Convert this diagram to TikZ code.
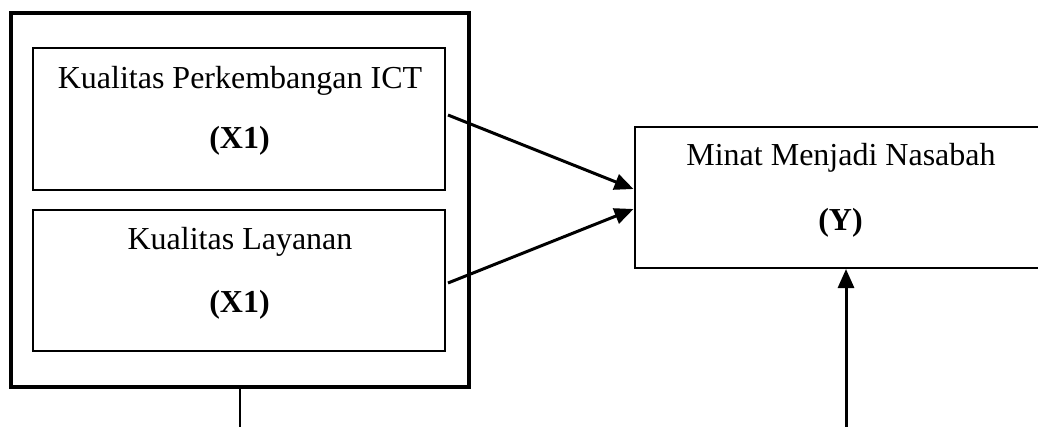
\documentclass[tikz,border=0pt]{standalone}
\usepackage{fontspec}
\setmainfont{Liberation Serif}
\usetikzlibrary{arrows.meta,calc}
\tikzset{
  box/.style={draw, line width=2pt, rectangle, inner sep=0pt},
  outerbox/.style={draw, line width=3.2pt, rectangle, inner sep=0pt},
  lbl/.style={anchor=base, inner sep=0pt, font=\fontsize{32}{38}\selectfont},
  blbl/.style={lbl, font=\fontsize{32}{38}\selectfont\bfseries},
  arr/.style={line width=3pt, -{Triangle[length=19pt,width=16pt]}},
}
\begin{document}
\begin{tikzpicture}[x=1pt,y=-1pt]
\useasboundingbox (0,0) rectangle (1038,426);
\clip (0,0) rectangle (1038,426);
% outer frame
\node[outerbox, minimum width=458pt, minimum height=374pt] (outer) at (240,200) {};
% inner boxes
\node[box, minimum width=412pt, minimum height=142pt] (x1) at (239,119) {};
\node[box, minimum width=412pt, minimum height=141pt] (x2) at (239,280.5) {};
\node[lbl] (t1) at (240,88) {Kualitas Perkembangan ICT};
\node[blbl] (t1b) at (239.5,148) {(X1)};
\node[lbl] (t2) at (240,249) {Kualitas Layanan};
\node[blbl] (t2b) at (239.5,312) {(X1)};
% right box
\node[box, minimum width=412pt, minimum height=141pt] (y) at (840.5,197.5) {};
\node[lbl] (t3) at (841,165) {Minat Menjadi Nasabah};
\node[blbl] (t3b) at (840.5,230) {(Y)};
% connectors
\draw[arr] ($(x1.east)+(2,-4)$) -- ($(y.west)+(0,-8.5)$);
\draw[arr] ($(x2.east)+(2,2.5)$) -- ($(y.west)+(0,11.5)$);
\coordinate (bl) at (240,430);
\coordinate (br) at (846,430);
\draw[line width=1.2pt] (outer.south) -- (bl);
\draw[arr] (br) -- (br |- y.south);
\end{tikzpicture}
\end{document}
